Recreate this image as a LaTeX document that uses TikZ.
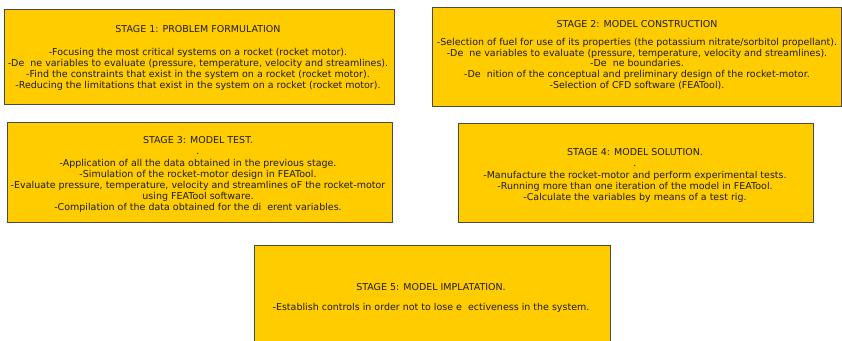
\documentclass[tikz,border=0pt]{standalone}
\usepackage{fontspec}
\setmainfont{DejaVu Sans}
\definecolor{stagefill}{HTML}{FFCC00}
\definecolor{stageline}{HTML}{4A4A4A}
\definecolor{stagetext}{HTML}{1E1E1E}
\begin{document}
\begin{tikzpicture}[x=1pt,y=-1pt,
  stagebox/.style={draw=stageline,line width=0.9pt,fill=stagefill},
  stagetxt/.style={align=center,inner sep=0pt,text=stagetext,anchor=north,
    font=\fontsize{9.5}{10.7}\selectfont},
  stagetxtw/.style={stagetxt,font=\fontsize{9.5}{11.2}\selectfont}]
\useasboundingbox (0,0) rectangle (842,340);
\fill[white] (0,0) rectangle (842,340);
% boxes
\draw[stagebox] (4,9) rectangle (394,104) node[pos=0,inner sep=0pt,name=b1]{};
\draw[stagebox] (432,7) rectangle (841,106) node[pos=0,inner sep=0pt,name=b2]{};
\draw[stagebox] (7,122) rectangle (392,222) node[pos=0,inner sep=0pt,name=b3]{};
\draw[stagebox] (458,123) rectangle (813,222) node[pos=0,inner sep=0pt,name=b4]{};
\draw[stagebox] (254,245) rectangle (610,345) node[pos=0,inner sep=0pt,name=b5]{};
% texts
\node[stagetxt] (t1) at (198,25) {STAGE 1: PROBLEM FORMULATION\\[13pt]
-Focusing the most critical systems on a rocket (rocket motor).\\
-De\ \ ne variables to evaluate (pressure, temperature, velocity and streamlines).\\
-Find the constraints that exist in the system on a rocket (rocket motor).\\
-Reducing the limitations that exist in the system on a rocket (rocket motor).};
\node[stagetxt] (t2) at (637,20.5) {STAGE 2: MODEL CONSTRUCTION\\[7pt]
-Selection of fuel for use of its properties (the potassium nitrate/sorbitol propellant).\\
-De\ \ ne variables to evaluate (pressure, temperature, velocity and streamlines).\\
-De\ \ ne boundaries.\\
-De\ \ nition of the conceptual and preliminary design of the rocket-motor.\\
-Selection of CFD software (FEATool).};
\node[stagetxtw] (t3) at (198,136.5) {STAGE 3: MODEL TEST.\\
.\\
-Application of all the data obtained in the previous stage.\\
-Simulation of the rocket-motor design in FEATool.\\
-Evaluate pressure, temperature, velocity and streamlines oF the rocket-motor\\
using FEATool software.\\
-Compilation of the data obtained for the di\ \ erent variables.};
\node[stagetxtw] (t4) at (635,148.5) {STAGE 4: MODEL SOLUTION.\\
.\\
-Manufacture the rocket-motor and perform experimental tests.\\
-Running more than one iteration of the model in FEATool.\\
-Calculate the variables by means of a test rig.};
\node[stagetxt] (t5) at (431,283) {STAGE 5: MODEL IMPLATATION.\\[10pt]
-Establish controls in order not to lose e\ \ ectiveness in the system.};
\end{tikzpicture}
\end{document}
